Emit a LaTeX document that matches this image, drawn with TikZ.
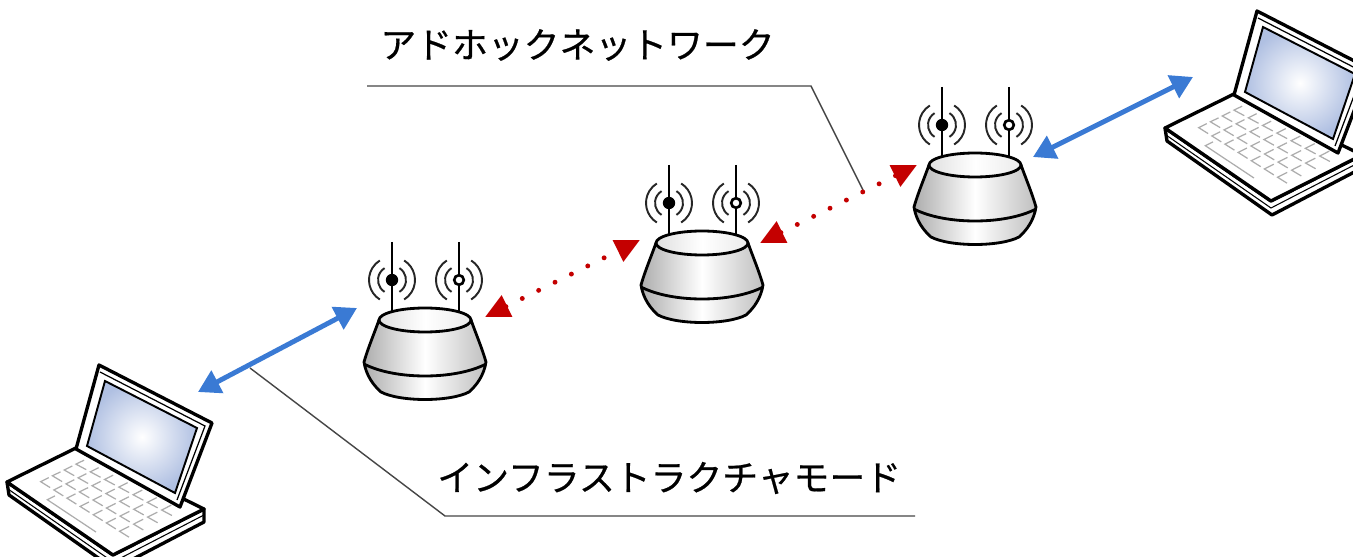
\documentclass[tikz,border=0pt]{standalone}
\usepackage{fontspec}
\newfontfamily\jpfont[FakeBold=0.6]{Noto Sans CJK JP}
\usetikzlibrary{arrows.meta,calc}

\definecolor{linkblue}{RGB}{58,122,212}
\definecolor{linkred}{RGB}{196,0,0}
\definecolor{leadgray}{RGB}{70,70,70}
\definecolor{screenblue}{RGB}{176,192,226}

\tikzset{
  outline/.style={line width=1.6pt, line join=round},
  thickline/.style={line width=1.9pt, line join=round},
  wave/.style={line width=1.1pt, black!85},
  keycap/.style={line width=0.7pt, black!32},
  wifilink/.style={linkred, line width=2.8pt, line cap=round,
    dash pattern=on 0pt off 10.4pt,
    {Triangle[length=14pt,width=13pt]}-{Triangle[length=14pt,width=13pt]}},
  cablelink/.style={linkblue, line width=2.8pt,
    {Triangle[length=12.5pt,width=14pt]}-{Triangle[length=12.5pt,width=14pt]}},
  leader/.style={leadgray, line width=0.8pt},
  caption/.style={font=\jpfont\fontsize{20.4pt}{24pt}\selectfont, inner sep=0pt, anchor=west},
  % access point: two antennas over a drum-shaped housing
  router/.pic={
    \draw[line width=1.5pt] (-33,-78) -- (-33,2);
    \draw[line width=1.5pt] (34,-78) -- (34,2);
    \foreach \ax in {-33,34}{
      \foreach \rr in {14,23}{
        \draw[wave] (\ax,-40) ++(122:\rr) arc[start angle=122,end angle=238,radius=\rr];
        \draw[wave] (\ax,-40) ++(-58:\rr) arc[start angle=-58,end angle=58,radius=\rr];
      }
    }
    \fill (-33,-40) circle (6.2);
    \draw[fill=white,line width=1.5pt] (34,-40) circle (4.8);
    \draw[outline, left color=black!32, right color=black!25, middle color=white]
      (-46,0) .. controls (-51,14) and (-57,28) .. (-61,42)
      .. controls (-59,55) and (-52,65) .. (-44,72)
      .. controls (-25,82) and (25,82) .. (44,72)
      .. controls (52,65) and (59,55) .. (61,42)
      .. controls (57,28) and (51,14) .. (46,0) -- cycle;
    \draw[outline] (-61,44) .. controls (-30,60) and (30,60) .. (61,44);
    \draw[outline, left color=black!12, right color=black!8, middle color=white]
      (0,0) ellipse [x radius=46, y radius=12];
  },
  % notebook computer with open lid
  laptop/.pic={
    \coordinate (kA) at (7,482);
    \coordinate (kB) at (78,447);
    \coordinate (kC) at (204,509);
    \coordinate (kD) at (113,555);
    \draw[thickline, fill=white] (7,482) -- (9,495) -- (114,569) -- (204,522) -- (204,509) -- (113,555) -- cycle;
    \draw[line width=0.6pt] (8,489) -- (113,562) -- (204,515);
    \draw[thickline, fill=white] (kA) -- (kB) -- (kC) -- (kD) -- cycle;
    \foreach \j in {0,...,3}{
      \foreach \i in {0,...,6}{
        \pgfmathsetmacro{\sa}{0.13+0.118*\i}
        \pgfmathsetmacro{\sb}{\sa+0.085}
        \pgfmathsetmacro{\ta}{0.27+0.16*\j}
        \pgfmathsetmacro{\tb}{\ta+0.11}
        \draw[keycap] ($($(kA)!\sa!(kD)$)!\tb!($(kB)!\sa!(kC)$)$)
          -- ($($(kA)!\sa!(kD)$)!\ta!($(kB)!\sa!(kC)$)$)
          -- ($($(kA)!\sb!(kD)$)!\ta!($(kB)!\sb!(kC)$)$);
      }
    }
    \draw[keycap] ($($(kA)!0.3!(kD)$)!0.21!($(kB)!0.3!(kC)$)$)
      -- ($($(kA)!0.3!(kD)$)!0.11!($(kB)!0.3!(kC)$)$)
      -- ($($(kA)!0.75!(kD)$)!0.11!($(kB)!0.75!(kC)$)$);
    \draw[thickline, fill=white] (99,365) -- (212,423) -- (180,507) -- (76,449) -- cycle;
    \draw[line width=0.7pt] (100,372) -- (205,426) -- (177,500);
    \draw[line width=1.1pt, inner color=white, outer color=screenblue]
      (105,381) -- (197,428) -- (175,493) -- (87,446) -- cycle;
  }
}

\begin{document}
\begin{tikzpicture}[x=0.02cm, y=-0.02cm]
  \useasboundingbox (0,0) rectangle (1353,557);
  \fill[white] (0,0) rectangle (1353,557);
  \clip (0,0) rectangle (1353,557);

  % devices
  \pic at (0,0) {laptop};
  \pic at (1158,-354) {laptop};
  \pic at (425,320) {router};
  \pic at (702,243) {router};
  \pic at (975,165) {router};

  % link end points
  \coordinate (lapL-port) at (198,392);
  \coordinate (r1-west) at (357,308);
  \coordinate (r1-east) at (485,317);
  \coordinate (r2-west) at (640,240);
  \coordinate (r2-east) at (760,243);
  \coordinate (r3-west) at (917,165);
  \coordinate (r3-east) at (1033,157);
  \coordinate (lapR-port) at (1193,77);

  % captions and leader lines
  \node[caption] (adhoc) at (380,45) {アドホックネットワーク};
  \node[caption] (infra) at (437,478) {インフラストラクチャモード};
  \coordinate (adhoc-lead) at (367,86);
  \coordinate (adhoc-bend) at (811,86);
  \coordinate (adhoc-tip) at (863,190);
  \coordinate (infra-lead) at (915,516);
  \coordinate (infra-bend) at (445,516);
  \coordinate (infra-tip) at (250,368);
  \draw[leader] (adhoc-lead) -- (adhoc-bend) -- (adhoc-tip);
  \draw[leader] (infra-lead) -- (infra-bend) -- (infra-tip);

  % links
  \draw[cablelink] (lapL-port) -- (r1-west);
  \draw[wifilink] (r1-east) -- (r2-west);
  \draw[wifilink] (r2-east) -- (r3-west);
  \draw[cablelink] (r3-east) -- (lapR-port);
\end{tikzpicture}
\end{document}
